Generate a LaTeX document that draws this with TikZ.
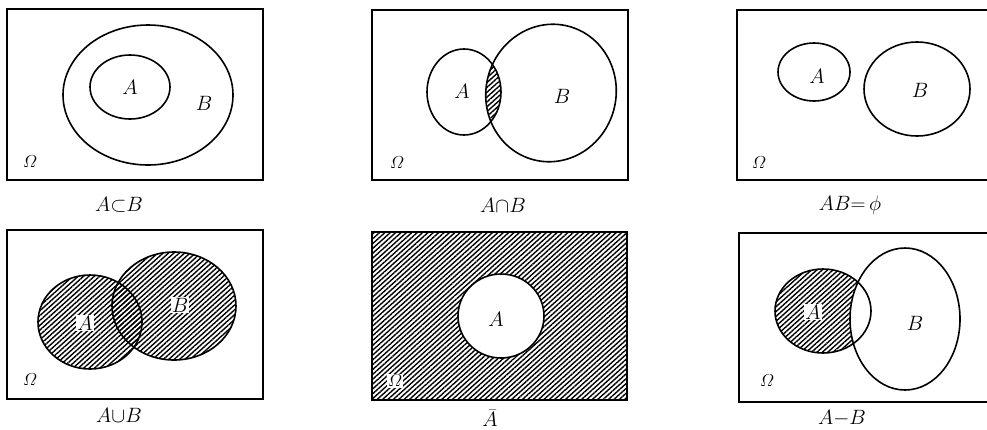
\documentclass[tikz,border=0pt]{standalone}
\usepackage{amsmath,amssymb}
\usepackage{tikz}
\usetikzlibrary{patterns.meta}

\begin{document}
\begin{tikzpicture}[
  x=1pt, y=-1pt,
  frame/.style={line width=1.5pt},
  setline/.style={line width=1.6pt},
  hatch/.style={pattern={Lines[angle=42,distance=3.6pt,line width=1.4pt]}},
  lbl/.style={font=\fontsize{20.74}{24}\selectfont, inner sep=1pt},
  wlbl/.style={lbl, fill=white},
  omega/.style={font=\fontsize{17.28}{20}\selectfont, inner sep=1pt},
  undertext/.style={font=\fontsize{20.74}{24}\selectfont, inner sep=1pt},
]
\useasboundingbox (0,0) rectangle (987,429);

% --- A subset B
\draw[frame] (7,9) rectangle (263,180);
\draw[setline] (148,95) ellipse (85 and 70);
\draw[setline] (130,87) ellipse (40 and 32);
\node[lbl] (subA) at (130,87) {$A$};
\node[lbl] (subB) at (204,103) {$B$};
\node[omega] (subO) at (30,162) {$\varOmega$};
\node[undertext] (subC) at (119,205) {$A{\subset}B$};

% --- A cap B
\draw[frame] (372,10) rectangle (628,180);
\begin{scope}
  \clip (464,92) ellipse (37 and 43);
  \fill[hatch] (551,93) ellipse (65 and 68);
\end{scope}
\draw[setline] (464,92) ellipse (37 and 43);
\draw[setline, rotate around={-15:(551,93)}] (551,93) ellipse (65 and 69);
\node[lbl] (capA) at (462,91) {$A$};
\node[lbl] (capB) at (562,96) {$B$};
\node[omega] (capO) at (397,163) {$\varOmega$};
\node[undertext] (capC) at (503,205) {$A{\cap}B$};

% --- AB = empty
\draw[frame] (990,10) -- (737,10) -- (737,180) -- (990,180);
\draw[setline] (814,72) ellipse (36 and 29);
\draw[setline] (917,89) ellipse (53 and 47);
\node[lbl] (disA) at (817,76) {$A$};
\node[lbl] (disB) at (920,90) {$B$};
\node[omega] (disO) at (759,163) {$\varOmega$};
\node[undertext] (disC) at (850,205) {$AB{=}\,\phi$};

% --- A cup B
\draw[frame] (7,230) rectangle (263,399);
\fill[hatch] (90,322) ellipse (52 and 47);
\fill[hatch] (174,306) ellipse (62 and 54);
\draw[setline] (90,322) ellipse (52 and 47);
\draw[setline] (174,306) ellipse (62 and 54);
\node[wlbl] (cupA) at (85,323) {$A$};
\node[wlbl] (cupB) at (180,305) {$B$};
\node[omega] (cupO) at (30,380) {$\varOmega$};
\node[undertext] (cupC) at (119,415) {$A{\cup}B$};

% --- complement of A
\fill[hatch] (372,232) rectangle (627,400);
\fill[white] (501,316) ellipse (43 and 42);
\draw[frame] (372,232) rectangle (627,400);
\draw[setline] (501,316) ellipse (43 and 42);
\node[lbl] (cmpA) at (496,319) {$A$};
\node[omega, fill=white] (cmpO) at (395,381) {$\varOmega$};
\node[undertext] (cmpC) at (490,418) {$\bar{A}$};

% --- A minus B
\draw[frame] (990,233) -- (739,233) -- (739,402) -- (990,402);
\begin{scope}
  \clip (823,311) ellipse (48 and 42);
  \fill[hatch] (823,311) ellipse (48 and 42);
  \fill[white] (905,319) ellipse (55 and 71);
\end{scope}
\draw[setline] (823,311) ellipse (48 and 42);
\draw[setline] (905,319) ellipse (55 and 71);
\node[wlbl] (difA) at (813,312) {$A$};
\node[lbl] (difB) at (915,323) {$B$};
\node[omega] (difO) at (767,381) {$\varOmega$};
\node[undertext] (difC) at (842,418) {$A{-}B$};
\end{tikzpicture}
\end{document}
